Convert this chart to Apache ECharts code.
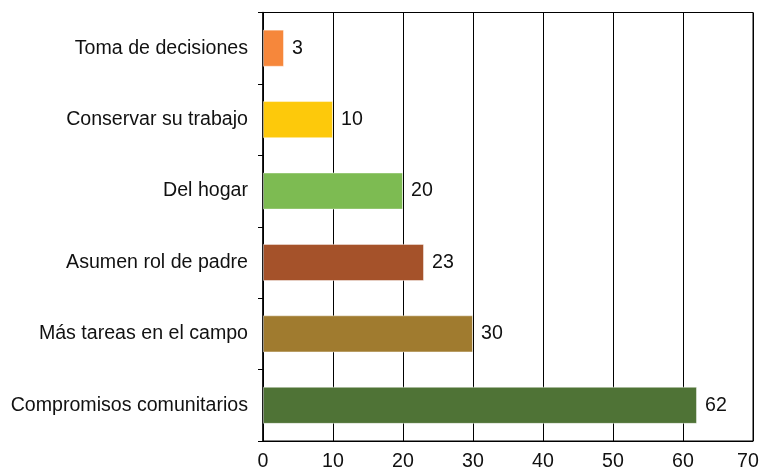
<!DOCTYPE html>
<html>
<head>
<meta charset="utf-8">
<script src="https://cdn.jsdelivr.net/npm/echarts@6/dist/echarts.min.js"></script>
<style>
  html, body { margin: 0; padding: 0; background: #fff; }
  #chart { width: 759px; height: 467px; }
</style>
</head>
<body>
<div id="chart"></div>
<script>
// Categories listed top to bottom
var categories = [
  'Toma de decisiones',
  'Conservar su trabajo',
  'Del hogar',
  'Asumen rol de padre',
  'Más tareas en el campo',
  'Compromisos comunitarios'
];
var values = [3, 10, 20, 23, 30, 62];
var barColors = ['#F6873B', '#FDC90B', '#7DBB52', '#A5522A', '#A07B2F', '#4F7336'];
var xTicks = [0, 10, 20, 30, 40, 50, 60, 70];

var font = 'Liberation Sans, Arial, Helvetica, sans-serif';
var fontSize = 19.6;
var xMax = xTicks[xTicks.length - 1];

var data = values.map(function (v, i) {
  return { value: v, itemStyle: { color: barColors[i] } };
});

var chart = echarts.init(document.getElementById('chart'), null, { renderer: 'canvas' });
chart.setOption({
  animation: false,
  backgroundColor: '#fff',
  grid: {
    left: 263, right: 6, top: 12.5, bottom: 26,
    outerBoundsMode: 'none',
    containLabel: false,
    show: true, borderColor: '#000', borderWidth: 1
  },
  xAxis: {
    type: 'value',
    min: xTicks[0],
    max: xMax,
    interval: 10,
    axisLine: { show: true, lineStyle: { color: '#000', width: 1 } },
    axisTick: { show: false },
    splitLine: { show: true, lineStyle: { color: '#000', width: 1 } },
    axisLabel: {
      color: '#111', fontSize: fontSize, fontFamily: font, margin: 11,
      // keep the last label inside the canvas
      formatter: function (v) { return v === xMax ? '{last|' + v + '}' : String(v); },
      rich: { last: { fontSize: fontSize, fontFamily: font, color: '#111', padding: [0, 10, 0, 0] } }
    }
  },
  yAxis: {
    type: 'category',
    inverse: true,
    data: categories,
    axisLine: { show: true, lineStyle: { color: '#000', width: 1.5 } },
    axisTick: { show: true, length: 5, lineStyle: { color: '#000' } },
    axisLabel: { color: '#111', fontSize: fontSize, fontFamily: font, margin: 15 }
  },
  series: [{
    type: 'bar',
    data: data,
    barWidth: '52%',
    itemStyle: { borderColor: 'rgba(255,255,255,0.45)', borderWidth: 1 },
    label: {
      show: true,
      position: 'right',
      distance: 8,
      color: '#111',
      fontSize: fontSize,
      fontFamily: font
    }
  }]
});
</script>
</body>
</html>
